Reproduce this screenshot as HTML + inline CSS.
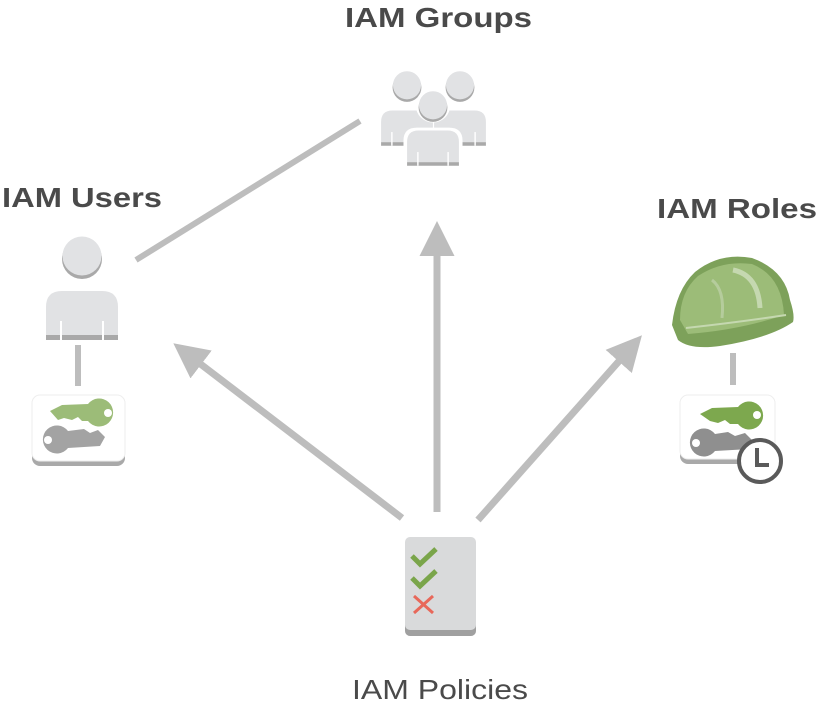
<!DOCTYPE html>
<html><head><style>
body{margin:0;background:#fff;}
svg{display:block}
text{font-family:"Liberation Sans",sans-serif;fill:#4a4a4a}
</style></head><body>
<svg width="819" height="705" viewBox="0 0 819 705">
<defs>
<marker id="ah" markerWidth="5" markerHeight="5" refX="2" refY="2.5" orient="auto" markerUnits="strokeWidth">
<path d="M0,0 L5,2.5 L0,5 Z" fill="#bdbdbd"/>
</marker>
<g id="person">
<circle cx="0" cy="2" r="20" fill="#a9a9a9"/>
<circle cx="0" cy="-1" r="19.5" fill="#e1e2e4"/>
<path d="M-36,78 V50 Q-36,34 -20,34 H20 Q36,34 36,50 V78 Z" fill="#e1e2e4"/>
<rect x="-36" y="78" width="72" height="5" fill="#a9a9a9"/>
<rect x="-22" y="64" width="2" height="19" fill="#fff"/>
<rect x="20" y="64" width="2" height="19" fill="#fff"/>
</g>
</defs>
<text x="345" y="27" font-size="28" font-weight="bold" textLength="187" lengthAdjust="spacingAndGlyphs">IAM Groups</text>
<text x="2" y="207" font-size="28" font-weight="bold" textLength="160" lengthAdjust="spacingAndGlyphs">IAM Users</text>
<text x="657" y="218" font-size="28" font-weight="bold" textLength="160" lengthAdjust="spacingAndGlyphs">IAM Roles</text>
<text x="352" y="699" font-size="28" textLength="176" lengthAdjust="spacingAndGlyphs">IAM Policies</text>

<line x1="136" y1="260" x2="360" y2="121" stroke="#bdbdbd" stroke-width="6"/>
<line x1="78" y1="345" x2="78" y2="386" stroke="#bdbdbd" stroke-width="6"/>
<line x1="733" y1="353" x2="733" y2="385" stroke="#bdbdbd" stroke-width="6"/>

<line x1="402" y1="518" x2="190" y2="356" stroke="#bdbdbd" stroke-width="7" marker-end="url(#ah)"/>
<line x1="437" y1="512" x2="437" y2="242" stroke="#bdbdbd" stroke-width="7" marker-end="url(#ah)"/>
<line x1="478" y1="520" x2="628" y2="351" stroke="#bdbdbd" stroke-width="7" marker-end="url(#ah)"/>

<use href="#person" x="82" y="257"/>
<g transform="translate(407,86) scale(0.72)"><use href="#person"/></g>
<g transform="translate(460,86) scale(0.72)"><use href="#person"/></g>
<g transform="translate(433,106) scale(0.72)">
<circle cx="0" cy="-1" r="24" fill="#fff"/>
<path d="M-41,80 V48 Q-41,30 -22,30 H22 Q41,30 41,48 V80 Z" fill="#fff"/>
<use href="#person"/></g>

<!-- user keys -->
<rect x="32" y="398" width="93" height="68" rx="8" fill="#a9a9a9"/>
<rect x="32" y="395" width="93" height="66" rx="8" fill="#fff" stroke="#eee"/>
<path d="M50,411 L62,405 L88,404 A14,14 0 1 1 88,421 L82,421 L78,417 L72,420 L64,418 L58,420 Z" fill="#9cbc78"/>
<circle cx="108" cy="413" r="4" fill="#fff"/>
<path d="M105,437 L98,430 L90,433 L84,429 L68,431 A14,14 0 1 0 68,448 L100,446 Z" fill="#a3a3a3"/>
<circle cx="48" cy="440" r="4" fill="#fff"/>

<!-- helmet -->
<path d="M672,325 Q676,290 695,272 Q720,252 752,258 Q785,270 790,300 Q795,315 793,322 Q770,338 720,346 Q690,350 678,340 Z" fill="#7da15a"/>
<path d="M680,320 Q680,292 698,276 Q722,260 752,264 Q782,276 784,315 Q740,330 688,334 Z" fill="#9cbc78"/>
<path d="M733,270 Q758,275 760,308" stroke="#c5d8b0" stroke-width="5" fill="none"/>
<path d="M712,280 Q725,290 722,318" stroke="#b5cc9c" stroke-width="3" fill="none"/>
<path d="M686,328 Q740,322 786,315" stroke="#c5d8b0" stroke-width="2" fill="none"/>

<!-- role keys -->
<rect x="680" y="398" width="95" height="66" rx="8" fill="#a9a9a9"/>
<rect x="680" y="395" width="95" height="64" rx="8" fill="#fff" stroke="#eee"/>
<path d="M700,414 L712,408 L738,407 A14,14 0 1 1 738,424 L730,424 L725,420 L718,423 L710,421 Z" fill="#7da84e"/>
<circle cx="757" cy="415" r="4" fill="#fff"/>
<path d="M752,440 L745,433 L735,436 L728,432 L715,434 A14,14 0 1 0 715,451 L750,449 Z" fill="#8f8f8f"/>
<circle cx="696" cy="443" r="4" fill="#fff"/>
<circle cx="760" cy="461" r="21" fill="#fff" stroke="#5a5a5a" stroke-width="4"/>
<path d="M757,448 V465 H769" stroke="#5a5a5a" stroke-width="4" fill="none"/>

<!-- policy -->
<rect x="405" y="540" width="71" height="96" rx="5" fill="#a0a0a0"/>
<rect x="405" y="537" width="71" height="93" rx="5" fill="#d9dadb"/>
<path d="M412,556 L420,564 L436,549" stroke="#7aa54a" stroke-width="5" fill="none"/>
<path d="M412,578 L420,586 L436,571" stroke="#7aa54a" stroke-width="5" fill="none"/>
<path d="M414,596 L433,613 M433,596 L414,613" stroke="#e8685a" stroke-width="3" fill="none"/>
</svg>
</body></html>
